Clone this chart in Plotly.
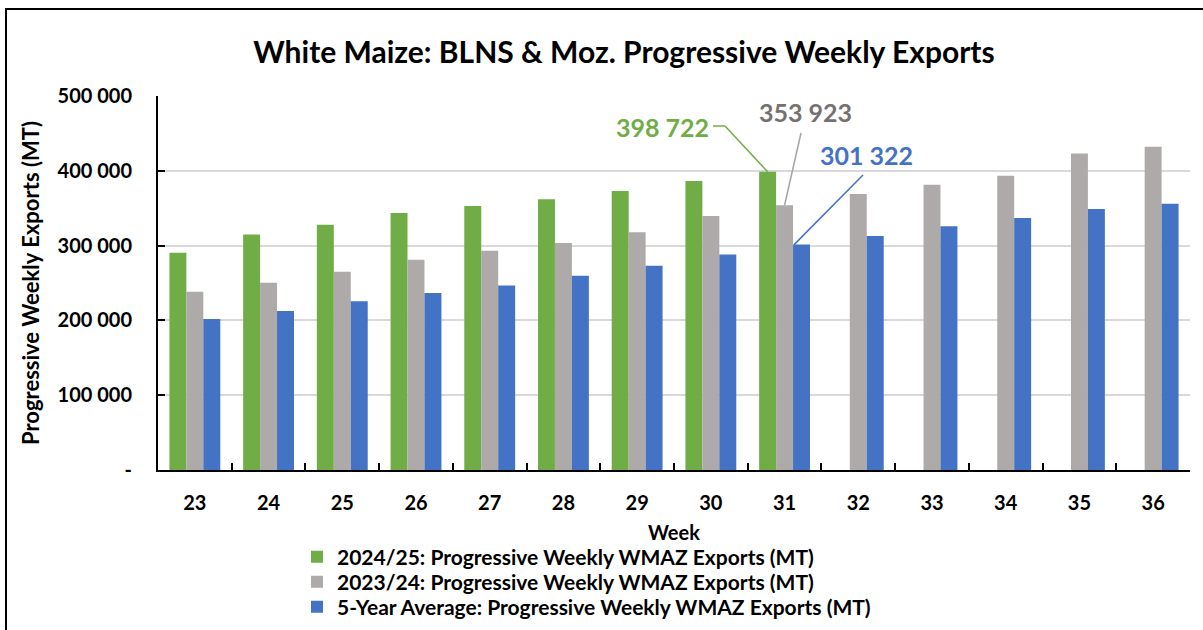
import plotly.graph_objects as go

weeks = ["23", "24", "25", "26", "27", "28", "29", "30", "31", "32", "33", "34", "35", "36"]
exports_2024_25 = [290500, 315000, 328000, 343600, 353000, 362000, 373000, 386500, 398722,
                   None, None, None, None, None]
exports_2023_24 = [238400, 250400, 265000, 281000, 293000, 303500, 318000, 339600, 353923,
                   369000, 381500, 393500, 423000, 432000]
exports_5yr_avg = [201900, 212600, 225500, 236600, 246500, 259700, 273000, 288000, 301322,
                   313000, 326000, 337000, 349000, 356000]
y_ticks = [0, 100000, 200000, 300000, 400000, 500000]
y_tick_text = ["-", "100 000", "200 000", "300 000", "400 000", "500 000"]

series_names = [
    "2024/25: Progressive Weekly WMAZ Exports (MT)",
    "2023/24: Progressive Weekly WMAZ Exports (MT)",
    "5-Year Average: Progressive Weekly WMAZ Exports (MT)",
]
GREEN, GRAY, BLUE = "#70ad47", "#aeaaaa", "#4472c4"
FONT = "Lato"

W, H = 1203, 630
L, R, T, B = 158, 13, 96, 160
pw, ph = W - L - R, H - T - B
cat_w = pw / len(weeks)


def px_to_idx(px):
    return (px - L) / cat_w - 0.5


def py_to_val(py):
    return (T + ph - py) / ph * 500000


def py_to_paper(py):
    return (T + ph - py) / ph


fig = go.Figure()
legend_ids = ["legend", "legend2", "legend3"]
for name, vals, col, lg in zip(series_names, [exports_2024_25, exports_2023_24, exports_5yr_avg],
                               [GREEN, GRAY, BLUE], legend_ids):
    fig.add_trace(go.Bar(x=weeks, y=vals, name=f"<b>{name}</b>", legend=lg,
                         marker=dict(color=col, line=dict(width=0))))

bar_w = (1 - 0.31) / 3
last = weeks.index("31")

# value callouts
labels = [
    (f"{exports_2024_25[last]:,}".replace(",", " "), GREEN, 662, 127),
    (f"{exports_2023_24[last]:,}".replace(",", " "), "#767171", 805, 112),
    (f"{exports_5yr_avg[last]:,}".replace(",", " "), BLUE, 866, 155),
]
for txt, col, px, py in labels:
    fig.add_annotation(x=px_to_idx(px), y=py_to_val(py), xref="x", yref="y", text=f"<b>{txt}</b>",
                       showarrow=False, font=dict(family=FONT, size=25, color=col))

# leader lines
fig.add_shape(type="line", xref="x", yref="y", x0=px_to_idx(713), y0=py_to_val(126),
              x1=px_to_idx(725), y1=py_to_val(126), line=dict(color=GREEN, width=1.5))
fig.add_shape(type="line", xref="x", yref="y", x0=px_to_idx(725), y0=py_to_val(126),
              x1=last - bar_w, y1=exports_2024_25[last], line=dict(color=GREEN, width=1.5))
fig.add_shape(type="line", xref="x", yref="y", x0=px_to_idx(801), y0=py_to_val(133),
              x1=last, y1=exports_2023_24[last], line=dict(color="#a5a5a5", width=1.5))
fig.add_shape(type="line", xref="x", yref="y", x0=px_to_idx(863), y0=py_to_val(175),
              x1=last + bar_w - 0.1, y1=exports_5yr_avg[last], line=dict(color=BLUE, width=1.5))

# outer frame
fig.add_shape(type="rect", xref="paper", yref="paper",
              x0=(6 - L) / pw, x1=(W + 20 - L) / pw,
              y0=py_to_paper(H + 20), y1=py_to_paper(9),
              line=dict(color="black", width=2), fillcolor="rgba(0,0,0,0)", layer="below")

legend_common = dict(orientation="v", xanchor="left", yanchor="middle",
                     font=dict(family=FONT, size=21, color="black"),
                     bgcolor="rgba(0,0,0,0)", itemwidth=30)
legend_x = (297 - L) / pw

fig.update_layout(
    width=W, height=H,
    margin=dict(l=L, r=R, t=T, b=B, autoexpand=False),
    paper_bgcolor="white", plot_bgcolor="white",
    barmode="group", bargap=0.31, bargroupgap=0,
    font=dict(family=FONT, color="black", size=20),
    title=dict(text="<b>White Maize: BLNS &amp; Moz. Progressive Weekly Exports</b>",
               x=624 / W, xref="container", xanchor="center", y=1 - 52 / H, yanchor="middle",
               font=dict(family=FONT, size=30, color="black")),
    legend=dict(x=legend_x, y=py_to_paper(557), **legend_common),
    legend2=dict(x=legend_x, y=py_to_paper(582), **legend_common),
    legend3=dict(x=legend_x, y=py_to_paper(607), **legend_common),
    showlegend=True,
)
fig.update_xaxes(
    type="category", categoryorder="array", categoryarray=weeks,
    showline=True, linecolor="black", linewidth=2,
    ticks="inside", tickson="boundaries", ticklen=7, tickcolor="black", tickwidth=1.5,
    tickfont=dict(family=FONT, size=20, color="black"), tickprefix="<b>", ticksuffix="</b>",
    ticklabelstandoff=14,
    title=dict(text="<b>Week</b>", font=dict(family=FONT, size=20, color="black"), standoff=13),
    showgrid=False, range=[-0.5, len(weeks) - 0.5],
)
fig.update_yaxes(
    range=[0, 500000], tickvals=y_ticks, ticktext=[f"<b>{t}</b>" for t in y_tick_text],
    showline=True, linecolor="black", linewidth=2,
    ticks="inside", ticklen=7, tickcolor="black", tickwidth=1.5,
    tickfont=dict(family=FONT, size=20, color="black"), ticklabelstandoff=20,
    showgrid=True, gridcolor="#d9d9d9", gridwidth=1.5, zeroline=False,
    title=dict(text="<b>Progressive Weekly Exports (MT)</b>",
               font=dict(family=FONT, size=22, color="black"), standoff=12),
)

fig.write_html("out.html", config={"displayModeBar": False},
               post_script="document.body.style.margin='0';")
